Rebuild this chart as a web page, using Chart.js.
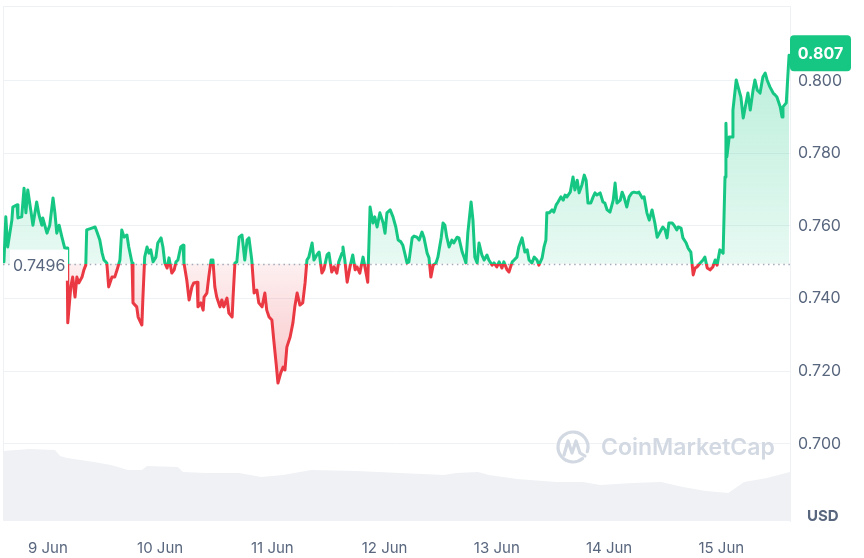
<!DOCTYPE html>
<html><head><meta charset="utf-8">
<script src="https://cdn.jsdelivr.net/npm/chart.js@4.4.0/dist/chart.umd.min.js"></script>
<style>html,body{margin:0;padding:0;background:#fff;}#wrap{width:864px;height:558px;position:relative;}</style>
</head><body><div id="wrap"><canvas id="c"></canvas></div>
<script>
// ---- data (time = hours since 8 Jun 00:00) ----
const dayLabels = ['9 Jun','10 Jun','11 Jun','12 Jun','13 Jun','14 Jun','15 Jun'];
const dayTicks = [24,48,72,96,120,144,168];
const yTicks = [0.70,0.72,0.74,0.76,0.78,0.80];
const baselinePrice = 0.7496;
const lastPriceLabel = '0.807';

const priceTimes = [
14.6,15.0,15.4,16.3,16.5,17.4,17.6,18.4,18.9,19.3,19.7,20.4,20.8,21.6,22.1,22.7,22.9,23.8,24.4,25.1,25.5,25.9,26.4,27.0,27.6,28.1,28.2,28.3,28.9,29.3,29.8,30.2,30.6,31.3,31.7,32.1,32.3,33.4,34.1,34.5,35.1,35.6,36.0,36.6,37.0,37.7,38.3,38.8,39.4,39.8,40.3,40.9,41.3,42.0,42.2,
43.0,43.3,44.1,44.3,44.7,45.2,45.6,46.0,46.5,47.1,47.5,48.2,48.6,49.0,49.5,49.9,50.5,51.0,51.4,51.8,52.4,52.9,53.1,53.7,54.2,54.8,55.2,55.9,56.1,56.7,57.2,57.4,58.0,58.4,58.9,59.3,59.7,60.1,60.8,61.2,61.6,62.3,62.7,63.4,63.6,64.0,64.4,64.9,65.5,65.7,66.1,66.6,67.0,67.6,68.1,68.7,69.1,69.8,
70.4,70.8,71.3,71.9,72.3,72.8,73.2,73.8,74.3,74.7,75.1,75.8,76.4,76.8,77.3,77.9,78.5,79.0,79.4,79.8,80.5,80.9,81.5,82.0,82.6,83.0,83.7,84.1,84.7,85.2,85.8,86.2,86.9,87.1,87.5,88.0,88.6,89.2,89.7,90.1,90.7,91.4,91.8,92.4,92.9,93.5,93.9,94.4,95.0,95.7,96.1,96.5,97.2,
97.8,98.4,98.9,99.5,99.9,100.4,100.8,101.2,101.9,102.3,102.9,103.4,104.0,104.4,105.1,105.5,105.9,106.4,107.0,107.4,108.1,108.5,108.9,109.3,109.8,110.4,110.8,111.5,111.9,112.6,113.0,113.4,113.8,114.5,114.9,115.3,115.8,116.2,116.8,117.3,117.9,118.3,119.0,119.4,120.0,120.5,121.1,121.5,122.2,122.6,123.3,123.7,124.3,124.7,125.4,
126.0,126.5,126.9,127.5,128.0,128.6,129.0,129.7,130.1,130.5,130.7,131.2,131.8,132.2,132.7,133.1,133.7,134.2,134.6,135.0,135.7,136.3,136.7,137.2,137.6,138.2,138.7,139.1,139.5,140.1,140.6,141.0,141.4,142.1,142.7,143.1,143.6,144.2,144.9,145.3,145.7,146.4,146.8,147.2,147.8,148.3,148.9,149.3,150.0,150.4,151.1,151.5,152.1,152.6,153.2,
153.8,154.3,154.9,155.5,156.0,156.4,156.8,157.5,157.9,158.5,158.8,159.4,159.8,160.5,160.9,161.5,162.0,162.4,162.8,163.5,164.1,164.5,165.0,165.6,166.2,166.7,167.1,167.7,168.4,168.8,169.0,169.2,169.7,170.3,170.5,171.2,171.6,172.2,172.7,173.3,173.7,174.2,174.8,175.2,175.7,176.3,176.9,177.4,177.8,178.4,179.1,179.5,179.9,180.6,181.0,181.2,181.9,182.5
];
const prices = [
0.7501,0.7625,0.7542,0.7616,0.7652,0.7658,0.7622,0.7625,0.7704,0.7636,0.7699,0.7638,0.7602,0.7666,0.7630,0.7602,0.7622,0.7580,0.7602,0.7677,0.7636,0.7580,0.7602,0.7569,0.7539,0.7539,0.7443,0.7333,0.7432,0.7459,0.7404,0.7459,0.7443,0.7459,0.7479,0.7492,0.7589,0.7594,0.7597,0.7583,0.7561,0.7525,0.7506,0.7498,0.7432,0.7459,0.7459,0.7479,0.7506,0.7589,0.7569,0.7575,0.7542,0.7498,0.7388,
0.7377,0.7349,0.7327,0.7396,0.7514,0.7542,0.7525,0.7534,0.7501,0.7514,0.7553,0.7567,0.7542,0.7498,0.7484,0.7512,0.7470,0.7479,0.7501,0.7506,0.7542,0.7547,0.7498,0.7451,0.7396,0.7432,0.7443,0.7445,0.7377,0.7388,0.7368,0.7404,0.7415,0.7459,0.7506,0.7506,0.7432,0.7404,0.7377,0.7396,0.7377,0.7401,0.7360,0.7349,0.7404,0.7498,0.7501,0.7569,0.7575,0.7553,0.7506,0.7561,0.7567,0.7506,0.7415,0.7423,0.7388,0.7377,
0.7415,0.7368,0.7349,0.7341,0.7286,0.7222,0.7167,0.7195,0.7211,0.7203,0.7266,0.7294,0.7333,0.7377,0.7415,0.7382,0.7388,0.7443,0.7506,0.7514,0.7553,0.7506,0.7520,0.7528,0.7470,0.7479,0.7520,0.7525,0.7473,0.7487,0.7470,0.7501,0.7525,0.7542,0.7506,0.7445,0.7487,0.7520,0.7479,0.7487,0.7470,0.7514,0.7487,0.7445,0.7652,0.7608,0.7625,0.7597,0.7636,0.7608,0.7580,0.7636,0.7644,
0.7625,0.7597,0.7561,0.7556,0.7547,0.7520,0.7498,0.7501,0.7567,0.7572,0.7569,0.7561,0.7583,0.7569,0.7525,0.7512,0.7459,0.7492,0.7498,0.7514,0.7567,0.7608,0.7602,0.7569,0.7542,0.7561,0.7553,0.7569,0.7567,0.7528,0.7514,0.7498,0.7580,0.7666,0.7616,0.7514,0.7498,0.7553,0.7520,0.7506,0.7520,0.7506,0.7492,0.7498,0.7487,0.7501,0.7484,0.7501,0.7479,0.7473,0.7501,0.7506,0.7514,0.7542,0.7567,
0.7528,0.7534,0.7506,0.7498,0.7514,0.7506,0.7492,0.7512,0.7542,0.7561,0.7636,0.7636,0.7644,0.7638,0.7658,0.7666,0.7680,0.7671,0.7685,0.7680,0.7693,0.7735,0.7699,0.7726,0.7691,0.7713,0.7740,0.7726,0.7663,0.7663,0.7680,0.7691,0.7685,0.7691,0.7666,0.7663,0.7644,0.7638,0.7671,0.7718,0.7663,0.7671,0.7693,0.7680,0.7652,0.7680,0.7691,0.7693,0.7691,0.7693,0.7677,0.7680,0.7636,0.7616,0.7644,
0.7608,0.7569,0.7583,0.7597,0.7589,0.7567,0.7608,0.7608,0.7602,0.7589,0.7597,0.7594,0.7567,0.7553,0.7539,0.7528,0.7465,0.7484,0.7487,0.7498,0.7506,0.7514,0.7484,0.7479,0.7487,0.7506,0.7492,0.7534,0.7525,0.7735,0.7883,0.7790,0.7845,0.7845,0.7919,0.8002,0.7983,0.7955,0.7897,0.7939,0.7966,0.7919,0.7974,0.8002,0.7974,0.7966,0.8010,0.8021,0.8002,0.7983,0.7966,0.7961,0.7955,0.7928,0.7900,0.7928,0.7939,0.8070
];

const volumeTimes = [14.4,20.1,25.5,26.6,28.1,33.8,37.5,41.1,44.1,45.2,51.8,52.9,57.8,64.9,69.6,74.3,80.3,89.9,94.6,104.0,108.7,111.3,116.0,118.3,124.3,132.7,138.4,142.1,149.1,155.1,159.8,164.7,169.5,172.9,177.8,182.7];
const volumes = [40.8,41.9,41.3,37.8,36.7,34.3,32.6,29.7,29.7,32.0,31.4,28.5,27.9,27.9,25.6,26.8,29.7,29.1,28.5,27.4,26.8,27.9,28.5,26.8,24.5,22.7,22.7,21.0,22.1,22.7,19.8,17.5,16.3,22.7,25.0,28.5];

// ---- styling ----
const UP = '#16c784', DOWN = '#ea3943', GRID = '#eff2f5', TXT = '#58667e';
const FONT = 'Inter, "Noto Sans", sans-serif';

const decor = {
  id: 'decor',
  beforeDatasetsDraw(chart) {
    const {ctx, chartArea: a} = chart;
    ctx.save();
    ctx.strokeStyle = GRID; ctx.lineWidth = 1;
    ctx.beginPath();
    ctx.moveTo(a.left, a.top + 0.5); ctx.lineTo(a.right, a.top + 0.5);
    ctx.moveTo(a.left + 0.5, a.top); ctx.lineTo(a.left + 0.5, a.bottom);
    ctx.stroke();
    // watermark
    const wc = '#d3d9e2';
    ctx.strokeStyle = wc; ctx.lineWidth = 3.2; ctx.lineJoin = 'round'; ctx.lineCap = 'round';
    const cx = 573, cy = 447, r = 15;
    ctx.beginPath(); ctx.arc(cx, cy, r, 0.28 * Math.PI, 2.1 * Math.PI); ctx.stroke();
    ctx.beginPath();
    ctx.moveTo(cx - 9, cy + 8); ctx.lineTo(cx - 5, cy - 6); ctx.lineTo(cx - 1, cy + 6);
    ctx.lineTo(cx + 3, cy - 6); ctx.lineTo(cx + 7, cy + 6); ctx.lineTo(cx + 12, cy + 9);
    ctx.stroke();
    ctx.fillStyle = wc; ctx.font = '600 23px ' + FONT; ctx.textBaseline = 'middle'; ctx.textAlign = 'left';
    ctx.fillText('CoinMarketCap', 601, 448);
    ctx.restore();
  },
  beforeDatasetDraw(chart, args) {
    if (args.index !== 0) return;
    const {ctx, chartArea: a} = chart;
    const y = Math.round(chart.scales.y.getPixelForValue(baselinePrice)) + 0.5;
    ctx.save();
    ctx.strokeStyle = '#a3abba'; ctx.lineWidth = 1.4; ctx.setLineDash([1.5, 3.6]);
    ctx.beginPath(); ctx.moveTo(a.left, y); ctx.lineTo(a.right, y); ctx.stroke();
    ctx.restore();
  },
  afterDatasetsDraw(chart) {
    const {ctx, chartArea: a} = chart;
    const ys = chart.scales.y;
    const by = ys.getPixelForValue(baselinePrice);
    ctx.save();
    // baseline label
    ctx.fillStyle = '#ffffff';
    ctx.fillRect(a.left + 7, by - 14, 58, 31);
    ctx.fillStyle = TXT; ctx.font = '16px ' + FONT; ctx.textBaseline = 'middle'; ctx.textAlign = 'left';
    ctx.fillText(baselinePrice.toFixed(4), a.left + 10, by + 3);
    // last price tag
    const py = ys.getPixelForValue(prices[prices.length - 1]) - 2;
    const bx = a.right, bw = 61, bh = 36;
    ctx.fillStyle = UP;
    ctx.beginPath();
    if (ctx.roundRect) ctx.roundRect(bx, py - bh / 2, bw, bh, 4); else ctx.rect(bx, py - bh / 2, bw, bh);
    ctx.fill();
    ctx.fillStyle = '#ffffff'; ctx.font = 'bold 16px ' + FONT; ctx.textAlign = 'center';
    ctx.fillText(lastPriceLabel, bx + bw / 2, py + 1);
    // currency
    ctx.fillStyle = TXT; ctx.font = 'bold 15px ' + FONT; ctx.textAlign = 'left';
    ctx.fillText('USD', a.right + 17, a.bottom - 5);
    ctx.restore();
  }
};

const chart = new Chart(document.getElementById('c'), {
  data: {
    datasets: [
      {
        type: 'line', label: 'Price', order: 0, yAxisID: 'y',
        data: priceTimes.map((t, i) => ({x: t, y: prices[i]})),
        borderColor: UP, borderWidth: 3, pointRadius: 0, tension: 0,
        borderJoinStyle: 'round', borderCapStyle: 'round',
        fill: {target: {value: baselinePrice}, above: 'rgba(22,199,132,0.15)', below: 'rgba(234,57,67,0.15)'}
      },
      {
        type: 'line', label: 'Volume', order: 1, yAxisID: 'yv',
        data: volumeTimes.map((t, i) => ({x: t, y: volumes[i]})),
        borderWidth: 0, pointRadius: 0, tension: 0,
        backgroundColor: '#eff1f4', fill: 'origin'
      }
    ]
  },
  options: {
    responsive: true, maintainAspectRatio: false, animation: false,
    layout: {padding: {left: 3, top: 6, right: 0, bottom: 0}},
    plugins: {legend: {display: false}, tooltip: {enabled: false}},
    scales: {
      x: {
        type: 'linear', min: 14.4, max: 182.7,
        grid: {display: false}, border: {display: false},
        afterBuildTicks: s => { s.ticks = dayTicks.map(v => ({value: v})); },
        afterFit: s => { s.height = 37; s.paddingLeft = 0; s.paddingRight = 0; },
        ticks: {
          autoSkip: false, maxRotation: 0, padding: 10, color: TXT,
          font: {family: FONT, size: 15},
          callback: v => dayLabels[dayTicks.indexOf(v)]
        }
      },
      y: {
        position: 'right', min: 0.67871, max: 0.82058,
        afterBuildTicks: s => { s.ticks = yTicks.map(v => ({value: v})); },
        afterFit: s => { s.width = 74; s.paddingTop = 0; s.paddingBottom = 0; },
        grid: {color: GRID, drawTicks: false, lineWidth: 1},
        border: {display: true, color: GRID},
        ticks: {padding: 8, color: TXT, font: {family: FONT, size: 16}, callback: v => v.toFixed(3)}
      },
      yv: {display: false, min: 0, max: 300}
    }
  },
  plugins: [decor]
});

(function applyGradients() {
  const {ctx, chartArea: a} = chart;
  const by = chart.scales.y.getPixelForValue(baselinePrice);
  const f = Math.min(1, Math.max(0, (by - a.top) / (a.bottom - a.top)));
  const line = ctx.createLinearGradient(0, a.top, 0, a.bottom);
  line.addColorStop(0, UP); line.addColorStop(f, UP);
  line.addColorStop(f, DOWN); line.addColorStop(1, DOWN);
  const above = ctx.createLinearGradient(0, a.top, 0, by);
  above.addColorStop(0, 'rgba(22,199,132,0.34)');
  above.addColorStop(1, 'rgba(22,199,132,0.10)');
  const below = ctx.createLinearGradient(0, by, 0, a.bottom);
  below.addColorStop(0, 'rgba(234,57,67,0.08)');
  below.addColorStop(1, 'rgba(234,57,67,0.55)');
  const ds = chart.data.datasets[0];
  ds.borderColor = line;
  ds.fill = {target: {value: baselinePrice}, above: above, below: below};
  chart.update('none');
})();
</script>
</body></html>
